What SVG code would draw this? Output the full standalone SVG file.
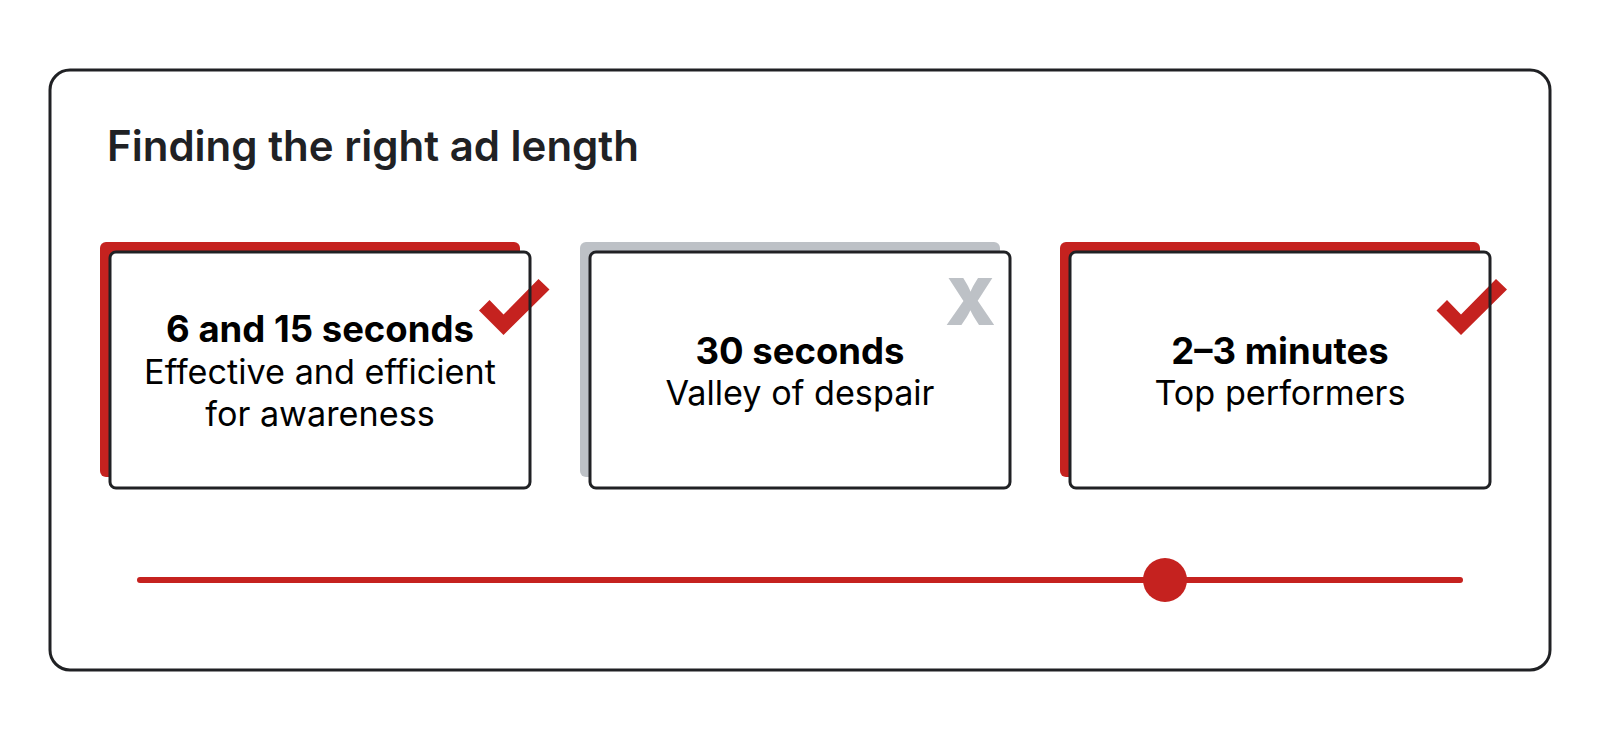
<svg xmlns="http://www.w3.org/2000/svg" width="1600" height="740" viewBox="0 0 1600 740">
<style>
text{font-family:"Inter","Liberation Sans",sans-serif;text-anchor:middle;fill:#000}
.h{font-size:36.5px;font-weight:700}
.b{font-size:34.2px;font-weight:400}
.t{font-size:42px;font-weight:600;fill:#202124;text-anchor:start}
.x{font-size:64px;font-weight:900;fill:#bdc1c6}
.card{fill:#fff}
.edge{fill:none;stroke:#202124;stroke-width:3}
.red{fill:#c5221f}
.gray{fill:#bdc1c6}
</style>
<rect width="1600" height="740" fill="#fff"/>
<g id="frame"><rect x="50" y="70" width="1500" height="600" rx="20" fill="#fff" stroke="#202124" stroke-width="3"/>
<text class="t" x="107" y="161">Finding the right ad length</text></g>
<g id="card1">
<rect class="red" x="100" y="242" width="420" height="235" rx="6"/>
<rect class="card" x="110" y="252" width="420" height="236" rx="6"/>
<polygon class="red" points="479,310.5 489.5,300 503.5,314.5 538.5,279 549.5,289.5 503.5,335"/>
<rect class="edge" x="110" y="252" width="420" height="236" rx="6"/>
<text class="h" x="320" y="342">6 and 15 seconds</text>
<text class="b" x="320" y="384">Effective and efficient</text>
<text class="b" x="320" y="426">for awareness</text>
</g>
<g id="card2">
<rect class="gray" x="580" y="242" width="420" height="235" rx="6"/>
<rect class="card" x="590" y="252" width="420" height="236" rx="6"/>
<text class="x" x="970.5" y="325">X</text>
<rect class="edge" x="590" y="252" width="420" height="236" rx="6"/>
<text class="h" x="800" y="364">30 seconds</text>
<text class="b" x="800" y="405">Valley of despair</text>
</g>
<g id="card3">
<rect class="red" x="1060" y="242" width="420" height="235" rx="6"/>
<rect class="card" x="1070" y="252" width="420" height="236" rx="6"/>
<polygon class="red" points="1436.5,310.5 1447,300 1461,314.5 1496,279 1507,289.5 1461,335"/>
<rect class="edge" x="1070" y="252" width="420" height="236" rx="6"/>
<text class="h" x="1280" y="364">2–3 minutes</text>
<text class="b" x="1280" y="405">Top performers</text>
</g>
<g id="connectors">
<line x1="140" y1="580" x2="1460" y2="580" stroke="#c5221f" stroke-width="6" stroke-linecap="round"/>
</g>
<g id="slider-knob"><circle class="red" cx="1165" cy="580" r="22"/></g>
</svg>
